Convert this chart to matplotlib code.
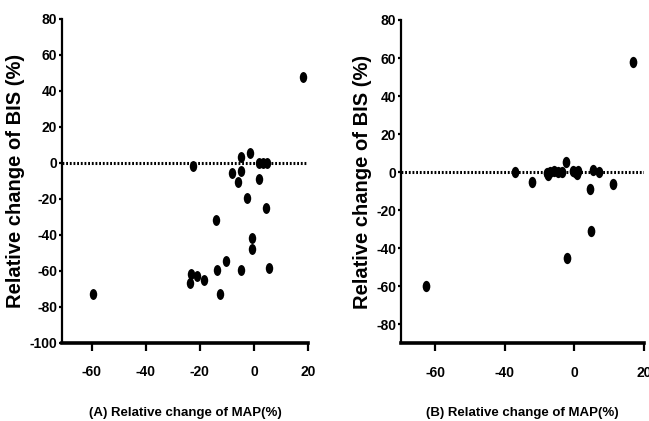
import matplotlib.pyplot as plt
from matplotlib.path import Path
from matplotlib.transforms import Affine2D

plt.rcParams['font.family'] = ['Liberation Sans', 'DejaVu Sans']
plt.rcParams['font.weight'] = 'bold'
plt.rcParams['axes.unicode_minus'] = False

# Panel A: relative change of MAP (%) vs relative change of BIS (%)
a_map = [18.3, -59.6, -22.7, -4.6, -1.5, -4.6, -8.1, -6.0, 1.9, 3.5, 5.0, 1.9, -2.5,
         4.4, -13.9, -0.7, -0.7, -10.5, -13.8, -4.9, 5.7, -23.2, -21.2, -23.7, -18.5, -12.6]
a_bis = [48, -72.6, -1.5, 3.3, 5.6, -4.7, -5.6, -10.8, 0, 0, 0, -8.9, -19.7,
         -25.2, -31.7, -41.7, -47.8, -54.7, -59.6, -59.6, -58.5, -61.5, -62.6, -66.7, -64.8, -72.6]

# Panel B
b_map = [16.7, -42.7, -17.2, -12.2, -2.4, -2.2, 4.4, 4.7, 11.0, 5.3, 7.0,
         -7.9, -7.0, -5.8, -4.6, -3.6, -0.3, 0.7, 1.1, -7.5, 0.2]
b_bis = [58, -60, 0, -5.4, 5.6, -45.4, -8.6, -31.2, -6.1, 1.2, 0,
         -0.5, 0.3, 0.5, 0, 0.2, 0.5, -0.8, 0.4, -1.5, 0]

# tick labels as printed on panel B's x axis
b_xticks = [-40, -20, 0, 20]
b_xticklabels = ['-60', '-40', '0', '20']

ellipse = Path.unit_circle().transformed(Affine2D().scale(0.68, 1.0))

fig = plt.figure(figsize=(6.49, 4.21), dpi=100)
ax1 = fig.add_axes([0.0955, 0.1853, 0.379, 0.7696])
ax2 = fig.add_axes([0.6179, 0.1845, 0.3744, 0.768])


def style(ax):
    ax.spines['top'].set_visible(False)
    ax.spines['right'].set_visible(False)
    ax.spines['left'].set_linewidth(1.6)
    ax.spines['bottom'].set_linewidth(2.6)
    ax.tick_params(axis='y', direction='out', length=2.5, width=1.6, pad=1, labelsize=10)
    ax.tick_params(axis='x', direction='out', length=6, width=1.6, pad=10, labelsize=10)
    for lab in ax.get_xticklabels() + ax.get_yticklabels():
        lab.set_fontweight('bold')
    ax.axhline(0, color='black', linestyle=(0, (0.6, 0.6)), linewidth=2.2, zorder=1)


ax1.scatter(a_map, a_bis, marker=ellipse, s=62, color='black', linewidths=0, zorder=3)
ax1.set_xlim(-71, 20)
ax1.set_ylim(-100, 80)
ax1.set_xticks([-60, -40, -20, 0, 20])
ax1.set_yticks(range(-100, 81, 20))
style(ax1)
ax1.set_ylabel('Relative change of BIS (%)', fontsize=14.5, fontweight='bold', labelpad=3)
ax1.set_xlabel('(A) Relative change of MAP(%)', fontsize=9.5, fontweight='bold', labelpad=20)

ax2.scatter(b_map, b_bis, marker=ellipse, s=66, color='black', linewidths=0, zorder=3)
ax2.set_xlim(-49.8, 20)
ax2.set_ylim(-90, 80)
ax2.set_xticks(b_xticks)
ax2.set_xticklabels(b_xticklabels)
ax2.set_yticks(range(-80, 81, 20))
style(ax2)
ax2.set_ylabel('Relative change of BIS (%)', fontsize=14.5, fontweight='bold', labelpad=3)
ax2.set_xlabel('(B) Relative change of MAP(%)', fontsize=9.5, fontweight='bold', labelpad=20)

plt.savefig('out.png', dpi=100)
